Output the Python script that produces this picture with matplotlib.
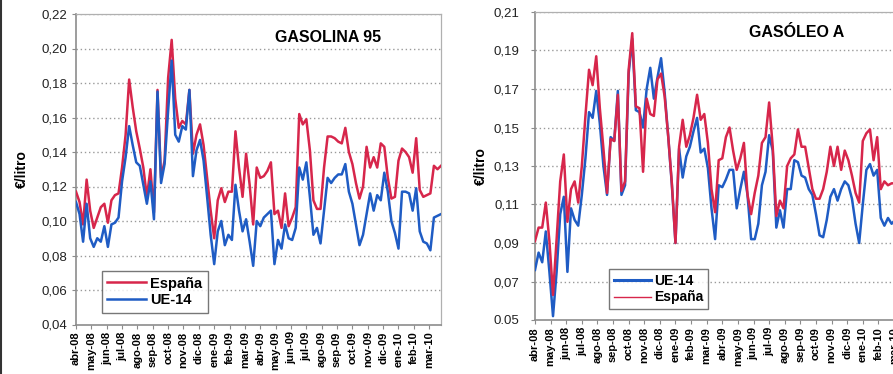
import numpy as np
import matplotlib
matplotlib.use("Agg")
import matplotlib.pyplot as plt
from matplotlib.lines import Line2D

plt.rcParams['font.family'] = ['Liberation Sans', 'DejaVu Sans']

# etiquetas mensuales (serie semanal de 104 semanas)
meses = ["abr-08", "may-08", "jun-08", "jul-08", "ago-08", "sep-08", "oct-08",
         "nov-08", "dic-08", "ene-09", "feb-09", "mar-09", "abr-09", "may-09",
         "jun-09", "jul-09", "ago-09", "sep-09", "oct-09", "nov-09", "dic-09",
         "ene-10", "feb-10", "mar-10"]

# diferencial gasolina 95 (€/litro)
gas_espana = [0.117, 0.111, 0.098, 0.124, 0.106, 0.096, 0.102, 0.108, 0.110, 0.099,
              0.112, 0.115, 0.116, 0.131, 0.150, 0.182, 0.166, 0.152, 0.142, 0.131,
              0.114, 0.130, 0.105, 0.176, 0.125, 0.135, 0.183, 0.205, 0.171, 0.154,
              0.158, 0.156, 0.176, 0.139, 0.150, 0.156, 0.144, 0.125, 0.106, 0.090,
              0.112, 0.119, 0.111, 0.117, 0.117, 0.152, 0.131, 0.114, 0.139, 0.121,
              0.098, 0.131, 0.125, 0.126, 0.129, 0.134, 0.104, 0.106, 0.096, 0.116,
              0.097, 0.102, 0.108, 0.162, 0.156, 0.159, 0.141, 0.112, 0.107, 0.107,
              0.131, 0.149, 0.149, 0.148, 0.146, 0.145, 0.154, 0.140, 0.133, 0.122,
              0.113, 0.120, 0.143, 0.131, 0.137, 0.131, 0.145, 0.143, 0.125, 0.113,
              0.114, 0.135, 0.142, 0.140, 0.137, 0.128, 0.148, 0.118, 0.114, 0.115,
              0.116, 0.132, 0.130, 0.132]
gas_ue14 = [0.111, 0.104, 0.088, 0.110, 0.090, 0.085, 0.090, 0.088, 0.097, 0.085,
            0.098, 0.099, 0.102, 0.123, 0.137, 0.155, 0.144, 0.134, 0.132, 0.121,
            0.110, 0.123, 0.101, 0.175, 0.122, 0.133, 0.164, 0.193, 0.150, 0.146,
            0.155, 0.153, 0.176, 0.126, 0.141, 0.147, 0.135, 0.114, 0.092, 0.075,
            0.094, 0.100, 0.086, 0.092, 0.089, 0.121, 0.106, 0.094, 0.101, 0.088,
            0.074, 0.100, 0.097, 0.102, 0.104, 0.106, 0.075, 0.089, 0.084, 0.098,
            0.090, 0.089, 0.096, 0.131, 0.124, 0.134, 0.114, 0.092, 0.096, 0.087,
            0.106, 0.125, 0.122, 0.125, 0.127, 0.127, 0.133, 0.117, 0.110, 0.098,
            0.086, 0.092, 0.104, 0.116, 0.106, 0.115, 0.112, 0.128, 0.117, 0.100,
            0.093, 0.084, 0.117, 0.117, 0.116, 0.106, 0.119, 0.094, 0.088, 0.087,
            0.083, 0.102, 0.103, 0.104]

# diferencial gasóleo A (€/litro)
gasoleo_espana = [0.091, 0.098, 0.098, 0.111, 0.091, 0.063, 0.092, 0.122, 0.136, 0.101,
                  0.118, 0.122, 0.111, 0.130, 0.156, 0.180, 0.172, 0.187, 0.160, 0.139,
                  0.116, 0.144, 0.143, 0.167, 0.117, 0.122, 0.180, 0.199, 0.161, 0.160,
                  0.127, 0.165, 0.157, 0.156, 0.175, 0.178, 0.166, 0.145, 0.121, 0.090,
                  0.140, 0.154, 0.140, 0.146, 0.155, 0.167, 0.154, 0.157, 0.142, 0.118,
                  0.106, 0.133, 0.134, 0.145, 0.150, 0.138, 0.128, 0.134, 0.142, 0.115,
                  0.105, 0.116, 0.125, 0.142, 0.145, 0.163, 0.140, 0.104, 0.112, 0.108,
                  0.130, 0.134, 0.136, 0.149, 0.140, 0.140, 0.129, 0.118, 0.113, 0.113,
                  0.118, 0.127, 0.140, 0.130, 0.140, 0.128, 0.138, 0.133, 0.125, 0.116,
                  0.111, 0.143, 0.147, 0.149, 0.133, 0.145, 0.118, 0.122, 0.120, 0.121,
                  0.121, 0.120, 0.121, 0.120]
gasoleo_ue14 = [0.076, 0.085, 0.080, 0.096, 0.075, 0.052, 0.075, 0.105, 0.114, 0.075,
                0.108, 0.102, 0.099, 0.115, 0.134, 0.158, 0.155, 0.169, 0.152, 0.130,
                0.115, 0.145, 0.143, 0.169, 0.115, 0.120, 0.178, 0.196, 0.159, 0.158,
                0.150, 0.170, 0.181, 0.165, 0.176, 0.186, 0.168, 0.145, 0.120, 0.090,
                0.139, 0.124, 0.135, 0.140, 0.148, 0.155, 0.137, 0.139, 0.129, 0.108,
                0.092, 0.120, 0.119, 0.123, 0.128, 0.128, 0.108, 0.118, 0.127, 0.115,
                0.092, 0.092, 0.100, 0.120, 0.127, 0.146, 0.138, 0.098, 0.107, 0.098,
                0.118, 0.118, 0.133, 0.132, 0.125, 0.124, 0.118, 0.115, 0.105, 0.094,
                0.093, 0.102, 0.114, 0.118, 0.112, 0.118, 0.122, 0.120, 0.113, 0.100,
                0.090, 0.110, 0.128, 0.131, 0.125, 0.128, 0.103, 0.099, 0.103, 0.100,
                0.102, 0.104, 0.104, 0.104]

ROJO = "#d7264b"
AZUL = "#1f5cc4"
GRIS = "#8c8c8c"

W, H = 893, 374
fig = plt.figure(figsize=(W / 100, H / 100), dpi=100)

semanas = np.arange(len(gas_espana))
pos_meses = np.arange(len(meses)) * 52 / 12


def px(x0, y0, x1, y1):
    # rectangulo en pixeles (origen arriba-izquierda) -> coordenadas de figura
    return [x0 / W, 1 - y1 / H, (x1 - x0) / W, (y1 - y0) / H]


def formato_eje(ax, yticks, ylabels, titulo, tx, ty, pad_ytick, pad_ylabel):
    ax.set_xlim(0, len(semanas) - 1)
    ax.set_ylim(yticks[0], yticks[-1])
    ax.set_yticks(yticks)
    ax.set_yticklabels(ylabels, fontsize=9.5, color="#222222")
    ax.set_xticks(pos_meses)
    ax.set_xticklabels(meses, rotation=90, fontsize=8, fontweight='bold')
    ax.tick_params(axis='y', length=3, width=0.8, color=GRIS, pad=pad_ytick)
    ax.tick_params(axis='x', length=3, width=0.8, color=GRIS, pad=2)
    for y in yticks[1:]:
        ax.axhline(y, color="#9a9a9a", lw=1.0, ls=(0, (1.0, 2.0)), zorder=1)
    for s in ['left', 'bottom']:
        ax.spines[s].set_color(GRIS)
        ax.spines[s].set_linewidth(1.2)
    for s in ['top', 'right']:
        ax.spines[s].set_color("#b0b0b0")
        ax.spines[s].set_linewidth(0.9)
    ax.set_ylabel("€/litro", fontsize=10, fontweight='bold', labelpad=pad_ylabel)
    ax.text(tx, ty, titulo, transform=ax.transAxes, fontsize=11.5,
            fontweight='bold', ha='center', va='center')


# Gasolina 95
ax1 = fig.add_axes(px(76, 14, 441, 324.5))
ax1.plot(semanas, gas_espana, color=ROJO, lw=1.8, label="España", zorder=3)
ax1.plot(semanas, gas_ue14, color=AZUL, lw=1.8, label="UE-14", zorder=4)
yt1 = np.round(np.arange(0.04, 0.2201, 0.02), 2)
formato_eje(ax1, yt1, [f"{v:.2f}".replace('.', ',') for v in yt1],
            "GASOLINA 95", 0.69, 0.925, 3, 9)
leg1 = ax1.legend(loc='lower left', bbox_to_anchor=(0.05, 0.015),
                  prop={'weight': 'bold', 'size': 10.5}, frameon=True, fancybox=False,
                  edgecolor="#555555", handlelength=2.7, handletextpad=0.3,
                  borderpad=0.35, labelspacing=0.2)
leg1.get_frame().set_linewidth(1.0)

# Gasóleo A
ax2 = fig.add_axes(px(535, 12, 906, 320))
ax2.plot(semanas, gasoleo_ue14, color=AZUL, lw=1.8, zorder=3)
ax2.plot(semanas, gasoleo_espana, color=ROJO, lw=1.8, zorder=4)
yt2 = np.round(np.arange(0.05, 0.2101, 0.02), 2)
lab2 = [f"{v:.2f}".replace('.', ',') for v in yt2]
lab2[0] = "0.05"
formato_eje(ax2, yt2, lab2, "GASÓLEO A", 0.705, 0.935, 8, 4)
handles = [Line2D([], [], color=AZUL, lw=2.2), Line2D([], [], color=ROJO, lw=1.0)]
leg2 = ax2.legend(handles, ["UE-14", "España"], loc='lower left',
                  bbox_to_anchor=(0.18, 0.012), prop={'weight': 'bold', 'size': 10},
                  frameon=True, fancybox=False, edgecolor="#555555",
                  handlelength=2.7, handletextpad=0.2, borderpad=0.35,
                  labelspacing=0.2)
leg2.get_frame().set_linewidth(1.0)

# borde oscuro del recorte a la izquierda
fig.add_artist(Line2D([0.001, 0.001], [0, 1], transform=fig.transFigure,
                      color="#333333", lw=1.5))

fig.savefig("out.png", dpi=100)
